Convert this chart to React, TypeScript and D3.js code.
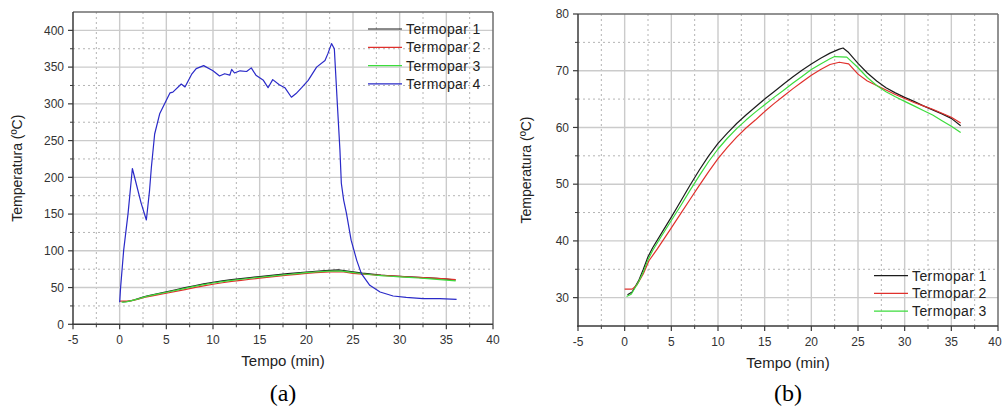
import React from 'react';
import * as d3 from 'd3';

// Termopar 1 (black)
const TIME_T1 = [0.3, 0.8, 1.5, 2, 2.5, 3, 4, 5, 6, 7, 8, 9, 10, 11, 12, 13, 14, 15, 16, 17, 18, 19, 20, 21, 22, 23, 23.4, 24, 25, 26, 27, 28, 29, 30, 31, 32, 33, 34, 35, 36];
const TEMP_T1 = [30.5, 31, 33, 35, 37.2, 38.8, 41.5, 44.2, 47, 49.8, 52.5, 55, 57.2, 59, 60.7, 62.2, 63.6, 65, 66.3, 67.6, 68.9, 70.1, 71.2, 72.2, 73.1, 73.8, 74, 73.2, 71.3, 69.6, 68.2, 67, 66.1, 65.3, 64.6, 63.8, 63.1, 62.4, 61.6, 60.3];

// Termopar 2 (red)
const TIME_T2 = [0, 0.8, 1.3, 2, 2.6, 3.5, 5, 6, 7, 8, 9, 10, 11, 12, 13, 14, 15, 16, 17, 18, 19, 20, 21, 22, 23, 24, 25, 26, 27, 28, 29, 30, 31, 32, 33, 34, 35, 36];
const TEMP_T2 = [31.5, 31.5, 32.2, 34.2, 36.5, 38.6, 42.3, 44.8, 47.3, 49.8, 52.2, 54.5, 56.5, 58.3, 59.9, 61.3, 62.8, 64.2, 65.5, 66.8, 68, 69.2, 70.2, 71.1, 71.5, 71.2, 69.4, 68.2, 67.4, 66.6, 65.8, 65.1, 64.4, 63.8, 63.2, 62.5, 61.8, 60.8];

// Termopar 3 (green)
const TIME_T3 = [0.2, 0.7, 1.5, 2, 2.5, 3, 4, 5, 6, 7, 8, 9, 10, 11, 12, 13, 14, 15, 16, 17, 18, 19, 20, 21, 22, 22.5, 23.8, 24.9, 26, 27, 28, 29, 30, 31, 32, 33, 34, 35, 36];
const TEMP_T3 = [30.2, 30.6, 32.8, 34.5, 36.7, 38.3, 41, 43.6, 46.2, 48.9, 51.5, 54, 56.2, 58.1, 59.8, 61.3, 62.7, 64, 65.3, 66.5, 67.8, 69, 70.2, 71.2, 72.1, 72.5, 72.4, 70.7, 68.8, 67.4, 66.3, 65.4, 64.6, 63.8, 63, 62.2, 61.2, 60.2, 59.1];

// Termopar 4 (blue, only in panel a)
const TIME_T4 = [0, 0.1, 0.43, 0.9, 1.36, 1.7, 2.3, 2.86, 3.2, 3.4, 3.75, 4.3, 5, 5.4, 5.7, 6.6, 7, 7.7, 8.2, 9, 10, 10.7, 11.25, 11.8, 12, 12.3, 12.9, 13.6, 14.1, 14.6, 15.4, 15.9, 16.4, 17.1, 17.7, 18.4, 18.9, 19.5, 20.2, 21.1, 22, 22.3, 22.7, 23, 23.3, 23.6, 23.75, 24, 24.3, 24.8, 25.4, 25.9, 26.8, 27.9, 29.3, 30.7, 32.5, 34.3, 36.1];
const TEMP_T4 = [30, 50, 101, 151, 212, 195, 165, 142, 182, 214, 259, 287, 305, 315, 316, 327, 323, 340, 348, 352, 345, 338, 341, 339, 347, 342, 345, 344, 349, 339, 332, 322, 333, 326, 322, 309, 314, 322, 332, 350, 359, 368, 382, 375, 305, 237, 192, 169, 151, 114.5, 87, 69, 53, 44, 38.5, 36.6, 35, 35, 34];

const X_TICKS = [-5, 0, 5, 10, 15, 20, 25, 30, 35, 40];
const Y_TICKS_A = [0, 50, 100, 150, 200, 250, 300, 350, 400];
const Y_TICKS_B = [30, 40, 50, 60, 70, 80];
const LEGEND = ['Termopar 1', 'Termopar 2', 'Termopar 3', 'Termopar 4'];
const COLORS = ['#1c1c1c', '#e0302c', '#3cdc3c', '#2a2ac8'];

const zip = (xs: number[], ys: number[]) => xs.map((t, i) => [t, ys[i]] as [number, number]);
const SERIES = [zip(TIME_T1, TEMP_T1), zip(TIME_T2, TEMP_T2), zip(TIME_T3, TEMP_T3), zip(TIME_T4, TEMP_T4)];

const SANS = '"Liberation Sans", Arial, sans-serif';
const PAGE_W = 1003;

type PanelProps = {
  left: number; right: number; top: number; bottom: number;
  yDomain: [number, number]; yTicks: number[];
  count: number;
  legendX: number; legendY: number; legendStep: number;
  yLabelX: number; caption: string;
};

function Panel(p: PanelProps) {
  const x = d3.scaleLinear().domain([-5, 40]).range([p.left, p.right]);
  const y = d3.scaleLinear().domain(p.yDomain).range([p.bottom, p.top]);
  const line = d3.line<[number, number]>().x(d => x(d[0])).y(d => y(d[1]));

  const yStep = p.yTicks[1] - p.yTicks[0];
  const xMinor = d3.range(-2.5, 40, 5);
  const yMinor = d3.range(p.yTicks[0] - yStep / 2, p.yDomain[1] + 0.01, yStep)
    .filter(v => v > p.yDomain[0] && v < p.yDomain[1]);
  const cx = (p.left + p.right) / 2;
  const cy = (p.top + p.bottom) / 2;

  return (
    <g>
      {/* minor grid */}
      {xMinor.map(t => (
        <line key={'xm' + t} x1={x(t)} x2={x(t)} y1={p.top} y2={p.bottom}
          stroke="#b4b4b4" strokeWidth={1} strokeDasharray="2,3" />
      ))}
      {yMinor.map(t => (
        <line key={'ym' + t} x1={p.left} x2={p.right} y1={y(t)} y2={y(t)}
          stroke="#b4b4b4" strokeWidth={1} strokeDasharray="2,3" />
      ))}
      {/* major grid */}
      {X_TICKS.slice(1, -1).map(t => (
        <line key={'xg' + t} x1={x(t)} x2={x(t)} y1={p.top} y2={p.bottom}
          stroke="#cbcbcb" strokeWidth={1.4} />
      ))}
      {p.yTicks.filter(t => t > p.yDomain[0] && t < p.yDomain[1]).map(t => (
        <line key={'yg' + t} x1={p.left} x2={p.right} y1={y(t)} y2={y(t)}
          stroke="#cbcbcb" strokeWidth={1.4} />
      ))}

      {/* data */}
      {SERIES.slice(0, p.count).map((s, i) => (
        <path key={'s' + i} d={line(s) || ''} fill="none" stroke={COLORS[i]}
          strokeWidth={1.2} strokeLinejoin="round" />
      ))}

      {/* frame */}
      <line x1={p.left} x2={p.right} y1={p.top} y2={p.top} stroke="#6e6e6e" strokeWidth={1.5} />
      <line x1={p.right} x2={p.right} y1={p.top} y2={p.bottom} stroke="#6e6e6e" strokeWidth={1.5} />
      <line x1={p.left} x2={p.left} y1={p.top} y2={p.bottom + 0.75} stroke="#3a3a3a" strokeWidth={1.5} />
      <line x1={p.left - 0.75} x2={p.right} y1={p.bottom} y2={p.bottom} stroke="#3a3a3a" strokeWidth={1.5} />

      {/* ticks */}
      {X_TICKS.map(t => {
        // keep the last label inside the page, as in the reference
        const tx = Math.min(x(t), PAGE_W - 8);
        return (
          <g key={'xt' + t}>
            <line x1={x(t)} x2={x(t)} y1={p.bottom} y2={p.bottom + 5} stroke="#3a3a3a" strokeWidth={1.2} />
            <text x={tx} y={p.bottom + 20} textAnchor="middle" fontFamily={SANS} fontSize={12} fill="#333">{t}</text>
          </g>
        );
      })}
      {xMinor.map(t => (
        <line key={'xmt' + t} x1={x(t)} x2={x(t)} y1={p.bottom} y2={p.bottom + 3} stroke="#3a3a3a" strokeWidth={1} />
      ))}
      {p.yTicks.map(t => (
        <g key={'yt' + t}>
          <line x1={p.left - 5} x2={p.left} y1={y(t)} y2={y(t)} stroke="#3a3a3a" strokeWidth={1.2} />
          <text x={p.left - 9} y={y(t) + 4.2} textAnchor="end" fontFamily={SANS} fontSize={12} fill="#333">{t}</text>
        </g>
      ))}
      {yMinor.map(t => (
        <line key={'ymt' + t} x1={p.left - 3} x2={p.left} y1={y(t)} y2={y(t)} stroke="#3a3a3a" strokeWidth={1} />
      ))}

      {/* axis titles */}
      <text x={cx} y={p.bottom + 42} textAnchor="middle" fontFamily={SANS} fontSize={15} fill="#222">Tempo (min)</text>
      <text transform={`translate(${p.yLabelX},${cy}) rotate(-90)`} textAnchor="middle"
        fontFamily={SANS} fontSize={14} fill="#222">Temperatura (ºC)</text>

      {/* legend */}
      {LEGEND.slice(0, p.count).map((name, i) => {
        const ly = p.legendY + i * p.legendStep;
        return (
          <g key={'lg' + i}>
            <line x1={p.legendX} x2={p.legendX + 34} y1={ly} y2={ly} stroke={COLORS[i]} strokeWidth={1.2} />
            <text x={p.legendX + 38} y={ly + 5} fontFamily={SANS} fontSize={14} letterSpacing={0.4} fill="#222">{name}</text>
          </g>
        );
      })}

      {/* caption */}
      <text x={cx} y={401} textAnchor="middle" fontFamily='"Liberation Serif", "Times New Roman", serif'
        fontSize={24} fill="#000">{p.caption}</text>
    </g>
  );
}

export default function App() {
  return (
    <svg width={PAGE_W} height={408} style={{ position: 'absolute', left: 0, top: 0, background: '#fff' }}>
      <Panel left={73} right={493} top={12} bottom={324.3} yDomain={[0, 425]} yTicks={Y_TICKS_A}
        count={4} legendX={368} legendY={29} legendStep={18.3} yLabelX={21.5} caption="(a)" />
      <Panel left={578} right={998} top={14} bottom={326} yDomain={[25, 80]} yTicks={Y_TICKS_B}
        count={3} legendX={874} legendY={275.7} legendStep={17.7} yLabelX={531} caption="(b)" />
    </svg>
  );
}
